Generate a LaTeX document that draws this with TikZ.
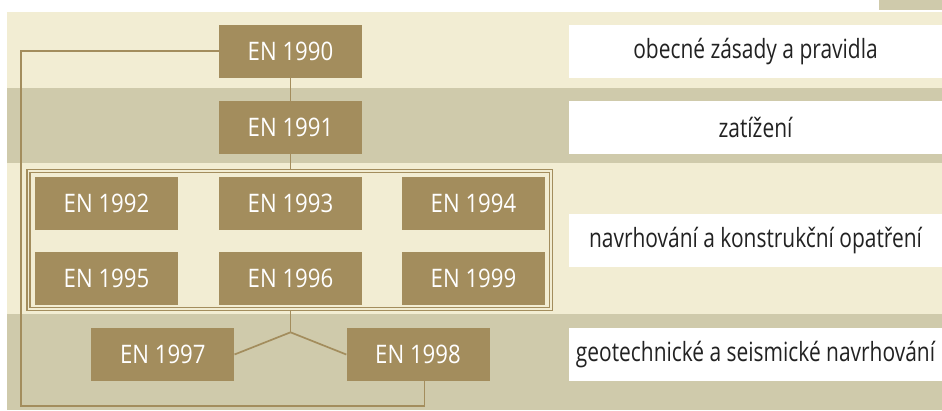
\documentclass[tikz,border=0pt]{standalone}
\usepackage{fontspec}
\newfontfamily\cfbox[FakeStretch=0.87]{Open Sans}
\newfontfamily\cfside[FakeStretch=0.79]{Open Sans}
\definecolor{tan}{HTML}{A38D5D}
\definecolor{lightband}{HTML}{F2EDD3}
\definecolor{darkband}{HTML}{CFCAAB}
\definecolor{txt}{HTML}{222222}
\tikzset{
  enbox/.style={fill=tan, text=white, minimum width=143pt, minimum height=52.5pt, inner sep=0pt, font=\cfbox\fontsize{25.5}{28}\selectfont},
  sidebox/.style={fill=white, text=txt, minimum width=373pt, minimum height=52.7pt, inner sep=0pt, font=\cfside\fontsize{26.5}{29}\selectfont},
  conn/.style={draw=tan, line width=1.7pt},
}
\begin{document}
\begin{tikzpicture}[x=1pt,y=-1pt]
\useasboundingbox (0,0) rectangle (942,410);
% bands
\fill[darkband] (879,0) rectangle (942,9.5);
\fill[lightband] (7,12.3) rectangle (942,87.7);
\fill[darkband] (7,87.7) rectangle (942,162.7);
\fill[lightband] (7,162.7) rectangle (942,314.3);
\fill[darkband] (7,314.3) rectangle (942,410);
% frame
\draw[tan, line width=1.2pt, double=lightband, double distance=1.8pt] (28.5,170.8) rectangle (551,309.2);
% boxes
\node[enbox] (n90) at (290.5,51.3) {EN 1990};
\node[enbox] (n91) at (290.5,127.5) {EN 1991};
\node[enbox] (n92) at (106.5,203.3) {EN 1992};
\node[enbox] (n93) at (290.5,203.3) {EN 1993};
\node[enbox] (n94) at (473.5,203.3) {EN 1994};
\node[enbox] (n95) at (106.5,278.3) {EN 1995};
\node[enbox] (n96) at (290.5,278.3) {EN 1996};
\node[enbox] (n99) at (473.5,278.3) {EN 1999};
\node[enbox] (n97) at (162.8,354.5) {EN 1997};
\node[enbox] (n98) at (418,354.5) {EN 1998};
% side texts
\node[sidebox] (s1) at (755.5,51.3) {obecné zásady a pravidla};
\node[sidebox] (s2) at (755.5,127.5) {zatížení};
\node[sidebox] (s3) at (755.5,240.3) {navrhování a konstrukční opatření};
\node[sidebox] (s4) at (755.5,354.5) {geotechnické a seismické navrhování};
% connectors
\coordinate (ftop) at (290.5,169.3);
\coordinate (fbot) at (290.5,310.7);
\coordinate (junc) at (290.5,332.3);
\coordinate (corner) at (21,405.7);
\draw[conn] (n90.south) -- (n91.north);
\draw[conn] (n91.south) -- (ftop);
\draw[conn] (fbot) -- (junc);
\draw[conn] (junc) -- (n97.east);
\draw[conn] (junc) -- (n98.west);
\draw[conn] ([xshift=6.5pt]n98.south) |- (corner) |- (n90.west);
\end{tikzpicture}
\end{document}
